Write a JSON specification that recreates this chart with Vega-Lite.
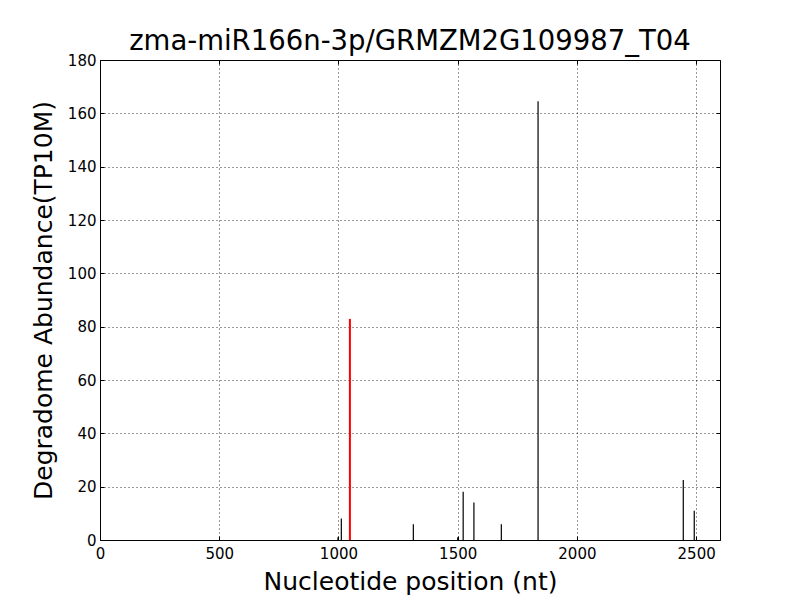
{
  "$schema": "https://vega.github.io/schema/vega-lite/v6.json",
  "width": 620,
  "height": 480,
  "autosize": {"type": "none"},
  "padding": {"left": 100, "top": 60, "right": 80, "bottom": 60},
  "background": "white",
  "title": {"text": "zma-miR166n-3p/GRMZM2G109987_T04", "font": "DejaVu Sans", "fontSize": 27.5, "fontWeight": "normal", "color": "black", "offset": -2},
  "data": {"values": [
    {"pos": 998, "abund": 1.0, "kind": "other"},
    {"pos": 1012, "abund": 8.1, "kind": "other"},
    {"pos": 1314, "abund": 5.9, "kind": "other"},
    {"pos": 1500, "abund": 1.0, "kind": "other"},
    {"pos": 1523, "abund": 18.1, "kind": "other"},
    {"pos": 1568, "abund": 14.1, "kind": "other"},
    {"pos": 1683, "abund": 5.9, "kind": "other"},
    {"pos": 1837, "abund": 164.5, "kind": "other"},
    {"pos": 2446, "abund": 22.5, "kind": "other"},
    {"pos": 2492, "abund": 11.0, "kind": "other"},
    {"pos": 1048, "abund": 82.9, "kind": "target"}
  ]},
  "layer": [
    {
      "mark": {"type": "rule"},
      "encoding": {
        "x": {"field": "pos", "type": "quantitative", "scale": {"domain": [0, 2600], "nice": false},
          "axis": {"title": "Nucleotide position (nt)", "values": [0, 500, 1000, 1500, 2000, 2500], "format": "d"}},
        "y": {"field": "abund", "type": "quantitative", "scale": {"domain": [0, 180], "nice": false},
          "axis": {"title": "Degradome Abundance(TP10M)", "values": [0, 20, 40, 60, 80, 100, 120, 140, 160, 180], "format": "d"}},
        "y2": {"datum": 0},
        "color": {"field": "kind", "type": "nominal", "scale": {"domain": ["other", "target"], "range": ["black", "red"]}, "legend": null},
        "strokeWidth": {"field": "kind", "type": "nominal", "scale": {"domain": ["other", "target"], "range": [1.2, 2]}, "legend": null}
      }
    },
    {
      "mark": {"type": "rule", "opacity": 0},
      "encoding": {
        "x": {"field": "pos", "type": "quantitative", "scale": {"domain": [0, 2600], "nice": false},
          "axis": {"orient": "top", "title": null, "labels": false, "grid": false, "values": [0, 500, 1000, 1500, 2000, 2500]}},
        "y": {"field": "abund", "type": "quantitative", "scale": {"domain": [0, 180], "nice": false},
          "axis": {"orient": "right", "title": null, "labels": false, "grid": false, "values": [0, 20, 40, 60, 80, 100, 120, 140, 160, 180]}},
        "y2": {"datum": 0}
      }
    }
  ],
  "resolve": {"axis": {"x": "independent", "y": "independent"}},
  "config": {
    "view": {"stroke": "black", "strokeWidth": 1},
    "axis": {
      "labelFont": "DejaVu Sans", "labelFontSize": 15, "labelColor": "black", "labelFlush": false,
      "titleFont": "DejaVu Sans", "titleFontSize": 25, "titleFontWeight": "normal", "titleColor": "black",
      "grid": true, "gridColor": "black", "gridDash": [1, 3], "gridOpacity": 1, "gridWidth": 0.8,
      "domain": false, "tickColor": "black", "tickSize": -4, "labelPadding": 8
    },
    "axisX": {"titlePadding": 8, "labelAngle": 0, "labelPadding": 10},
    "axisY": {"titlePadding": 11}
  }
}
